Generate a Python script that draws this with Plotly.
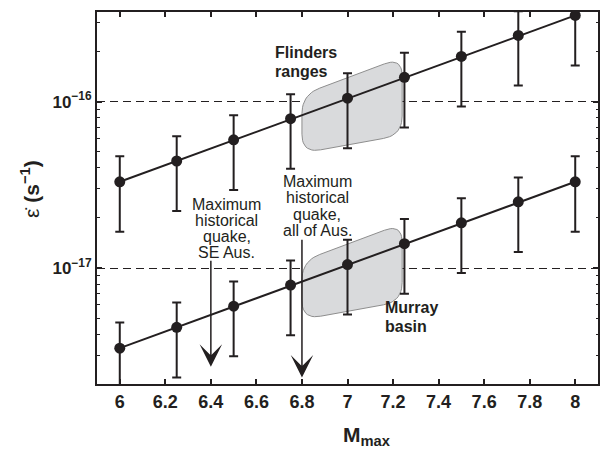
import numpy as np
import plotly.graph_objects as go

# ---------------- data ----------------
mmax = [6.0, 6.25, 6.5, 6.75, 7.0, 7.25, 7.5, 7.75, 8.0]

upper_rate = [3.3e-17, 4.4e-17, 5.9e-17, 7.9e-17, 1.05e-16, 1.4e-16, 1.87e-16, 2.5e-16, 3.3e-16]
upper_hi = [4.7e-17, 6.2e-17, 8.3e-17, 1.11e-16, 1.48e-16, 1.97e-16, 2.63e-16, 3.5e-16, 4.7e-16]
upper_lo = [1.65e-17, 2.2e-17, 2.95e-17, 3.95e-17, 5.25e-17, 7.0e-17, 9.35e-17, 1.25e-16, 1.65e-16]

lower_rate = [3.3e-18, 4.4e-18, 5.9e-18, 7.9e-18, 1.05e-17, 1.4e-17, 1.87e-17, 2.5e-17, 3.3e-17]
lower_hi = [4.7e-18, 6.2e-18, 8.3e-18, 1.11e-17, 1.48e-17, 1.97e-17, 2.63e-17, 3.5e-17, 4.7e-17]
lower_lo = [1.65e-18, 2.2e-18, 2.95e-18, 3.95e-18, 5.25e-18, 7.0e-18, 9.35e-18, 1.25e-17, 1.65e-17]

# shaded regions (corners: TL, TR, BR, BL)
flinders_x = [6.8, 7.24, 7.24, 6.8]
flinders_y = [1.10e-16, 1.85e-16, 6.3e-17, 4.9e-17]
murray_x = [6.8, 7.24, 7.24, 6.8]
murray_y = [1.10e-17, 1.85e-17, 6.3e-18, 4.9e-18]

# arrows: x, tip value, tail value
arrow_x = [6.4, 6.8]
arrow_tip = [2.55e-18, 2.2e-18]
arrow_tail = [1.13e-17, 1.51e-17]

x_tickvals = [6.0, 6.2, 6.4, 6.6, 6.8, 7.0, 7.2, 7.4, 7.6, 7.8, 8.0]
x_ticktext = ["6", "6.2", "6.4", "6.6", "6.8", "7", "7.2", "7.4", "7.6", "7.8", "8"]
y_tickvals = [1e-17, 1e-16]
y_ticktext = ["10<sup>−17</sup>", "10<sup>−16</sup>"]
y_minor = [m * 10.0 ** e for e in (-18, -17, -16) for m in range(2, 10)]

INK = "#231f20"
FONT = "Liberation Sans, Arial, Helvetica, sans-serif"

XR = [5.9, 8.1]
YR = [-17.697, -15.461]
SX, SY = 227.5, 166.5  # px per unit x, px per decade y (for isotropic corner rounding)


def rounded_polygon(xs, ys, r=19.0, n=12):
    pts = np.array([[x * SX, np.log10(y) * SY] for x, y in zip(xs, ys)])
    out = []
    k = len(pts)
    for i in range(k):
        p0, p1, p2 = pts[i - 1], pts[i], pts[(i + 1) % k]
        v1, v2 = p0 - p1, p2 - p1
        l1, l2 = np.linalg.norm(v1), np.linalg.norm(v2)
        rr = min(r, l1 / 2.2, l2 / 2.2)
        a = p1 + v1 / l1 * rr
        b = p1 + v2 / l2 * rr
        for t in np.linspace(0, 1, n):
            out.append((1 - t) ** 2 * a + 2 * (1 - t) * t * p1 + t ** 2 * b)
    out.append(out[0])
    out = np.array(out)
    return out[:, 0] / SX, 10 ** (out[:, 1] / SY)


fig = go.Figure()

for rx, ry in ((flinders_x, flinders_y), (murray_x, murray_y)):
    px, pyv = rounded_polygon(rx, ry)
    fig.add_trace(go.Scatter(x=px, y=pyv, mode="lines", fill="toself",
                             fillcolor="#d9dadc", line=dict(color="#8e8e8e", width=1),
                             hoverinfo="skip", showlegend=False))

for yv, hi, lo in ((upper_rate, upper_hi, upper_lo), (lower_rate, lower_hi, lower_lo)):
    plus = [h - v for h, v in zip(hi, yv)]
    minus = [v - l for v, l in zip(yv, lo)]
    fig.add_trace(go.Scatter(
        x=mmax, y=yv, mode="lines+markers",
        line=dict(color=INK, width=2),
        marker=dict(size=11, color=INK),
        error_y=dict(type="data", symmetric=False, array=plus, arrayminus=minus,
                     color=INK, thickness=2, width=4.5),
        showlegend=False))

ann = []
for xa, tip, tail in zip(arrow_x, arrow_tip, arrow_tail):
    ann.append(dict(x=xa, y=np.log10(tip), ax=xa, ay=np.log10(tail), xref="x", yref="y",
                    axref="x", ayref="y", text="", showarrow=True, arrowhead=3,
                    arrowsize=2.5, arrowwidth=1.5, arrowcolor=INK, standoff=0))


def py(ypx):
    return (384 - ypx) / 372.0


def line_text(txt, x, ypx, xanchor="center", bold=False, size=16):
    t = f"<b>{txt}</b>" if bold else txt
    ann.append(dict(x=x, y=py(ypx), xref="x", yref="paper", text=t, showarrow=False,
                    xanchor=xanchor, yanchor="middle", font=dict(size=size, color=INK, family=FONT)))


for txt, ypx in zip(["Maximum", "historical", "quake,", "SE Aus."], [204.5, 220.5, 236.5, 252.5]):
    line_text(txt, 6.47, ypx)
for txt, ypx in zip(["Maximum", "historical", "quake,", "all of Aus."], [181, 197.5, 214, 230.5]):
    line_text(txt, 6.867, ypx)
for txt, ypx in zip(["Flinders", "ranges"], [52.5, 72]):
    line_text(txt, 6.675, ypx, xanchor="left", bold=True)
for txt, ypx in zip(["Murray", "basin"], [307, 326.5]):
    line_text(txt, 7.155, ypx, xanchor="left", bold=True)

# axis titles
ann.append(dict(x=(341 - 97) / 501, y=py(436), xref="paper", yref="paper",
                text="<b>M<sub>max</sub></b>", showarrow=False, xanchor="left", yanchor="middle",
                font=dict(size=21, color=INK, family=FONT)))
ann.append(dict(x=(30 - 97) / 501, y=py(189), xref="paper", yref="paper",
                text="ε\u0307 <b>(s<sup>−1</sup>)</b>", showarrow=False, textangle=-90,
                xanchor="center", yanchor="middle",
                font=dict(size=21, color=INK, family=FONT)))

fig.update_layout(
    width=601, height=453,
    margin=dict(l=97, r=3, t=12, b=69, autoexpand=False),
    paper_bgcolor="white", plot_bgcolor="white",
    font=dict(family=FONT, color=INK),
    showlegend=False,
    annotations=ann,
    xaxis=dict(range=XR, tickmode="array", tickvals=x_tickvals,
               ticktext=[f"<b>{t}</b>" for t in x_ticktext],
               ticks="inside", ticklen=5, tickwidth=1.5, automargin=False,
               tickcolor=INK, mirror="ticks", showline=True, linewidth=2, linecolor=INK,
               showgrid=False, zeroline=False,
               tickfont=dict(size=18, color=INK, family=FONT)),
    yaxis=dict(type="log", range=YR, tickmode="array", tickvals=y_tickvals,
               ticktext=[f"<b>{t}</b>" for t in y_ticktext], automargin=False,
               ticks="inside", ticklen=5, tickwidth=1.5, tickcolor=INK, mirror="ticks",
               showline=True, linewidth=2, linecolor=INK,
               showgrid=True, gridcolor=INK, gridwidth=1, griddash="8px,5px", zeroline=False,
               minor=dict(tickmode="array", tickvals=y_minor, ticks="inside", ticklen=2.5,
                          tickwidth=1, tickcolor=INK, showgrid=False),
               tickfont=dict(size=17, color=INK, family=FONT)),
)

fig.write_html("out.html", config={"displayModeBar": False},
               post_script="document.body.style.margin='0';document.body.style.padding='0';")
